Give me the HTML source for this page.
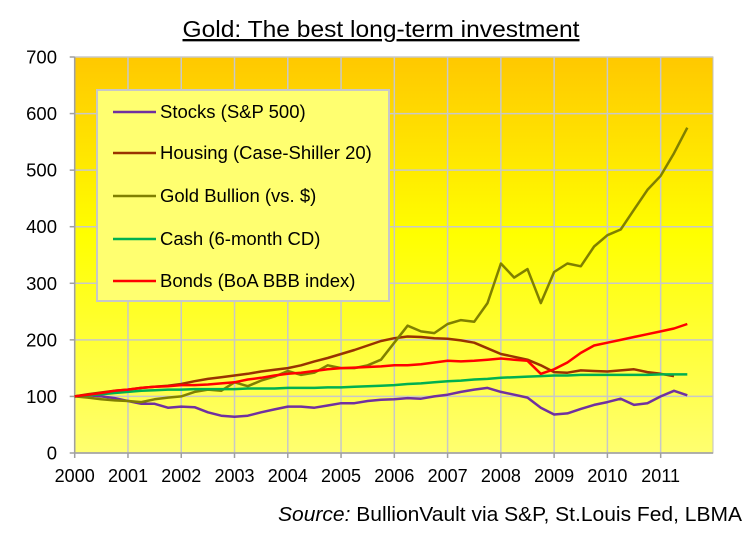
<!DOCTYPE html>
<html><head><meta charset="utf-8"><style>
html,body{margin:0;padding:0;background:#fff;}
svg{display:block;font-family:"Liberation Sans",sans-serif;}
</style></head><body>
<svg id="chart" width="754" height="537" viewBox="0 0 754 537">
<defs>
<linearGradient id="bg" x1="0" y1="0" x2="0" y2="1">
<stop offset="0" stop-color="#ffc800"/>
<stop offset="0.45" stop-color="#ffff00"/>
<stop offset="1" stop-color="#ffff70"/>
</linearGradient>
</defs>
<text x="381" y="37" text-anchor="middle" font-size="23.5" textLength="397" lengthAdjust="spacingAndGlyphs" text-decoration="underline" fill="#000">Gold: The best long-term investment</text>
<rect x="74.7" y="57" width="638.3" height="396" fill="url(#bg)" stroke="#c0c0c0"/>
<g id="grid"></g>
<line x1="74.7" y1="57" x2="74.7" y2="453" stroke="#a0a0a0" stroke-width="1.5"/>
<line x1="74.7" y1="453" x2="713" y2="453" stroke="#a0a0a0" stroke-width="1.5"/>
<g id="axes"></g>
<g id="series"></g>
<g>
<rect x="97" y="90" width="292" height="211" fill="#ffff70" stroke="#c8c8c8" stroke-width="2"/>
<g id="legend"></g>
</g>
<text x="742" y="521" text-anchor="end" font-size="20" textLength="464" lengthAdjust="spacingAndGlyphs" fill="#000"><tspan font-style="italic">Source:</tspan> BullionVault via S&amp;P, St.Louis Fed, LBMA</text>
</svg>
<script>
const dates = [];
for (let i = 0; i < 47; i++) dates.push(2000 + i * 0.25);
const xTicks = ["2000","2001","2002","2003","2004","2005","2006","2007","2008","2009","2010","2011"];
const yTicks = [0,100,200,300,400,500,600,700];
const seriesNames = ["Stocks (S&P 500)","Housing (Case-Shiller 20)","Gold Bullion (vs. $)","Cash (6-month CD)","Bonds (BoA BBB index)"];
const seriesColors = ["#7030a0","#993300","#808000","#00b050","#ff0000"];
const stocks = [100,102,100,97, 92,87,87,80, 82,81,72,66, 64,66,72,77, 82,82,80,84, 88,88,92,94, 95,97,96,100, 103,108,112,115, 108,103,98,80, 68,70,78,85, 90,96,85,88, 100,110,102];
const housing = [100,104,107,110, 112,115,117,119, 122,127,131,134, 137,140,144,147, 150,155,162,168, 175,182,190,198, 203,206,205,203, 202,199,195,185, 175,170,165,155, 143,142,146,145, 144,146,148,143, 140,136,null];
const gold = [100,98,95,93, 92,90,95,98, 100,108,112,110, 125,118,128,135, 145,138,142,155, 150,150,155,165, 195,225,215,212, 228,235,232,265, 335,310,325,265, 320,335,330,365, 385,395,430,465, 490,530,575];
const cash = [100,102,104,106, 108,110,111,112, 112,113,113,113, 113,114,114,114, 115,115,115,116, 116,117,118,119, 120,122,123,125, 127,128,130,131, 133,134,135,136, 137,137,138,138, 138,138,138,138, 139,139,139];
const bonds = [100,103,106,110, 112,115,117,118, 120,120,121,123, 125,130,133,137, 140,142,145,148, 150,151,152,153, 155,155,157,160, 163,162,163,165, 167,165,163,140, 148,160,177,190, 195,200,205,210, 215,220,228];
const allSeries = [stocks, housing, gold, cash, bonds];

const X0 = 74.7, PX = 53.27, Y0 = 453, PY = 396/700;
const xs = d => X0 + (d - 2000) * PX;
const ys = v => Y0 - v * PY;
const NS = "http://www.w3.org/2000/svg";
function mk(tag, attrs, parent) {
  const e = document.createElementNS(NS, tag);
  for (const k in attrs) e.setAttribute(k, attrs[k]);
  parent.appendChild(e);
  return e;
}
const grid = document.getElementById("grid");
const axes = document.getElementById("axes");
yTicks.forEach(v => {
  const l = mk("line", {x1: X0, x2: 713, y1: ys(v), y2: ys(v), stroke: "#c8c8c8", "stroke-width": 1.5}, grid);
  
  
  const tk = mk("line", {x1: X0 - 5, x2: X0, y1: ys(v), y2: ys(v), stroke: "#a0a0a0", "stroke-width": 1.5}, axes);
  
  
  const t = mk("text", {x: 57, y: ys(v) + 6.5, "text-anchor": "end", "font-size": 18.5, fill: "#000"}, axes);
  t.textContent = v;
  
  
});
xTicks.forEach(lbl => {
  const x = xs(+lbl);
  const l = mk("line", {x1: x, x2: x, y1: 57, y2: 453, stroke: "#c8c8c8", "stroke-width": 1.5}, grid);
  
  
  const tk = mk("line", {x1: x, x2: x, y1: 453, y2: 458, stroke: "#a0a0a0", "stroke-width": 1.5}, axes);
  
  
  const t = mk("text", {x: x, y: 482, "text-anchor": "middle", "font-size": 18, fill: "#000"}, axes);
  t.textContent = lbl;
  
  
});
const sg = document.getElementById("series");
allSeries.forEach((vals, i) => {
  let d = "";
  vals.forEach((v, j) => {
    if (v === null) return;
    d += (d ? "L" : "M") + xs(dates[j]).toFixed(1) + "," + ys(v).toFixed(1);
  });
  const p = mk("path", {d: d, fill: "none", stroke: seriesColors[i], "stroke-width": 2.5, "stroke-linejoin": "round"}, sg);
  
  
});
const lg = document.getElementById("legend");
const legendY = [112, 153, 196, 239, 281];
seriesNames.forEach((n, i) => {
  const l = mk("line", {x1: 113, x2: 156, y1: legendY[i], y2: legendY[i], stroke: seriesColors[i], "stroke-width": 2.5}, lg);
  
  
  const t = mk("text", {x: 160, y: legendY[i] + 6, "font-size": 18.5, fill: "#000"}, lg);
  t.textContent = n;
  
  
});
</script>
</body></html>
